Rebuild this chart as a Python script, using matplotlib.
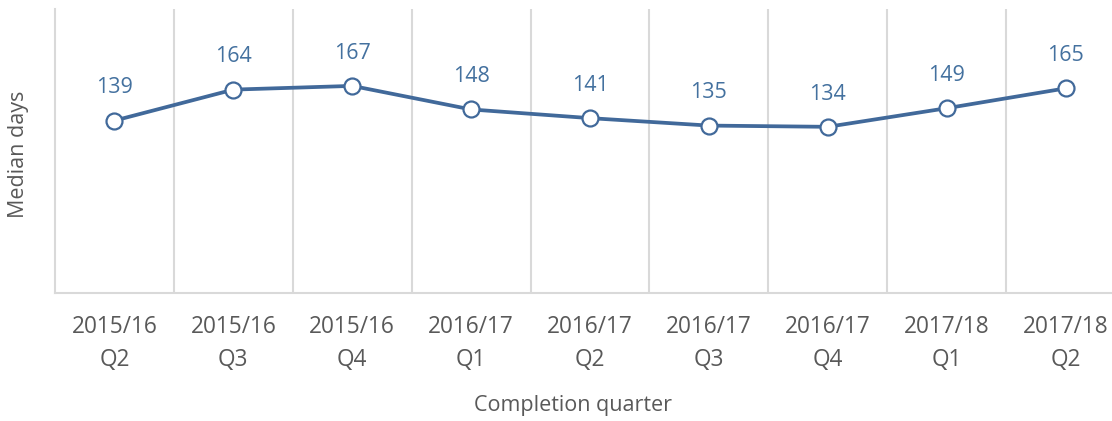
import matplotlib.pyplot as plt
import numpy as np

plt.rcParams['font.family'] = ['Open Sans', 'DejaVu Sans']

quarters = ["2015/16\nQ2", "2015/16\nQ3", "2015/16\nQ4", "2016/17\nQ1", "2016/17\nQ2",
            "2016/17\nQ3", "2016/17\nQ4", "2017/18\nQ1", "2017/18\nQ2"]
median_days = [139, 164, 167, 148, 141, 135, 134, 149, 165]

line_col = '#41699a'
grid_col = '#d9d9d9'
text_col = '#595959'

fig = plt.figure(figsize=(11.12, 4.21), dpi=100)
# plot area runs a little past the right edge of the figure, as in the original
ax = fig.add_axes([55/1112, 128/421, 1070/1112, 284/421])

x = np.arange(len(quarters))
ax.plot(x, median_days, color=line_col, lw=2.7, marker='o', ms=11.5,
        mfc='white', mec=line_col, mew=1.6, zorder=3, clip_on=False)

for xi, v in zip(x, median_days):
    ax.annotate(str(v), (xi, v), xytext=(0, 23.5), textcoords='offset points',
                ha='center', va='center', fontsize=15.5, color='#44719f')

ax.set_xlim(-0.5, len(quarters) - 0.5)
ax.set_ylim(0, 229)

ax.set_xticks(x)
ax.set_xticklabels(quarters, fontsize=16.3, color=text_col, linespacing=1.5)
ax.set_xticks(np.arange(0.5, len(quarters) - 0.5), minor=True)
ax.tick_params(axis='x', which='both', length=0, pad=16)
ax.set_yticks([])
ax.grid(axis='x', which='minor', color=grid_col, lw=1.5)

for s in ['top', 'right']:
    ax.spines[s].set_visible(False)
for s in ['left', 'bottom']:
    ax.spines[s].set_color(grid_col)
    ax.spines[s].set_linewidth(1.5)

ax.set_ylabel("Median days", fontsize=15.5, color=text_col)
ax.yaxis.set_label_coords(-0.0243, 0.49)
ax.set_xlabel("Completion quarter", fontsize=15.5, color=text_col)
ax.xaxis.set_label_coords(0.484, -0.36)

fig.savefig('out.png', dpi=100)
